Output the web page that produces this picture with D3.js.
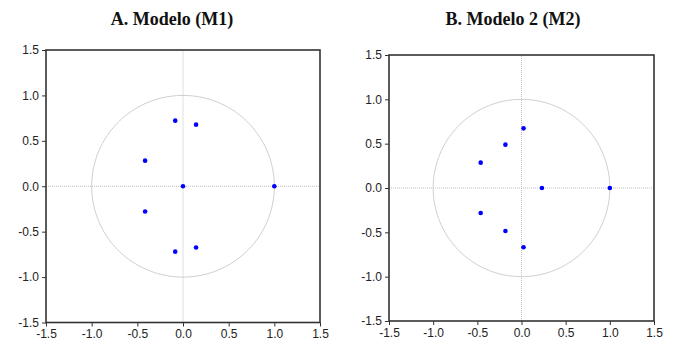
<!DOCTYPE html>
<html>
<head>
<meta charset="utf-8">
<script src="https://cdn.jsdelivr.net/npm/d3@7"></script>
<style>
	body { margin: 0; background: #fff; }
	.tick text { font-family: "Liberation Sans", Arial, sans-serif; font-size: 12px; fill: #222; }
</style>
</head>
<body>
<svg id="bgsvg" width="678" height="350"></svg>
<script>
// inverse roots of the AR characteristic polynomial
const titles = ["A. Modelo (M1)", "B. Modelo 2 (M2)"]
const ticks  = [-1.5, -1.0, -0.5, 0.0, 0.5, 1.0, 1.5]

const rootsM1Re = [-0.085, 0.143, -0.415, 0.0, 1.0, -0.415, -0.085, 0.143]
const rootsM1Im = [ 0.722, 0.678,  0.282, 0.0, 0.0, -0.278, -0.720, -0.674]

const rootsM2Re = [0.023, -0.182, -0.462, 0.231, 1.0, -0.462, -0.182, 0.023]
const rootsM2Im = [0.673,  0.489,  0.286, 0.0,   0.0, -0.282, -0.485, -0.669]

const panels = [
	{title: titles[0], re: rootsM1Re, im: rootsM1Im, left: 46,  right: 320, top: 50, bottom: 322.5, titleX: 172},
	{title: titles[1], re: rootsM2Re, im: rootsM2Im, left: 389, right: 654, top: 55, bottom: 321,   titleX: 513}
]

const svg = d3.select("#bgsvg")
// plain hyphen for negatives, like the original
const fmt = function(d){ return d.toFixed(1) }

panels.forEach(function(p){

	let x = d3.scaleLinear().domain([-1.5, 1.5]).range([p.left, p.right])
	let y = d3.scaleLinear().domain([-1.5, 1.5]).range([p.bottom, p.top])
	let g = svg.append("g")

	// title
	svg.append("text")
		.attr("x", p.titleX)
		.attr("y", 25)
		.attr("text-anchor", "middle")
		.style("font-family", "'Liberation Serif', 'DejaVu Serif', serif")
		.style("font-weight", "bold")
		.style("font-size", "18px")
		.style("fill", "#111")
		.text(p.title)

	// zero lines (light dotted)
	g.append("line")
		.attr("x1", x(-1.5)).attr("x2", x(1.5))
		.attr("y1", y(0)).attr("y2", y(0))
		.attr("stroke", "#c0c0c0").attr("stroke-width", 1)
		.attr("stroke-dasharray", "1,1")
	g.append("line")
		.attr("x1", x(0)).attr("x2", x(0))
		.attr("y1", y(-1.5)).attr("y2", y(1.5))
		.attr("stroke", "#c0c0c0").attr("stroke-width", 1)
		.attr("stroke-dasharray", "1,1")

	// unit circle
	let circ = d3.range(0, 361, 2).map(function(a){
		let t = a * Math.PI / 180
		return [Math.cos(t), Math.sin(t)]
	})
	g.append("path")
		.datum(circ)
		.attr("d", d3.line().x(function(d){ return x(d[0]) }).y(function(d){ return y(d[1]) }))
		.attr("fill", "none")
		.attr("stroke", "#cfcfcf")
		.attr("stroke-width", 1)

	// roots
	g.selectAll(".root")
		.data(p.re.map(function(r, i){ return {re: r, im: p.im[i]} }))
		.enter()
		.append("circle")
		.attr("class", "root")
		.attr("cx", function(d){ return x(d.re) })
		.attr("cy", function(d){ return y(d.im) })
		.attr("r", 2.3)
		.attr("fill", "#0000ff")

	// frame
	g.append("rect")
		.attr("x", p.left).attr("y", p.top)
		.attr("width", p.right - p.left).attr("height", p.bottom - p.top)
		.attr("fill", "none")
		.attr("stroke", "#333")
		.attr("stroke-width", 1.6)

	// axes
	g.append("g")
		.attr("transform", "translate(0," + p.bottom + ")")
		.call(d3.axisBottom(x).tickValues(ticks).tickFormat(fmt).tickSize(4).tickPadding(3))
		.call(function(a){ a.select(".domain").remove() })
		.call(function(a){ a.selectAll(".tick line").attr("stroke", "#333") })

	g.append("g")
		.attr("transform", "translate(" + p.left + ",0)")
		.call(d3.axisLeft(y).tickValues(ticks).tickFormat(fmt).tickSize(4).tickPadding(3))
		.call(function(a){ a.select(".domain").remove() })
		.call(function(a){ a.selectAll(".tick line").attr("stroke", "#333") })
})
</script>
</body>
</html>
